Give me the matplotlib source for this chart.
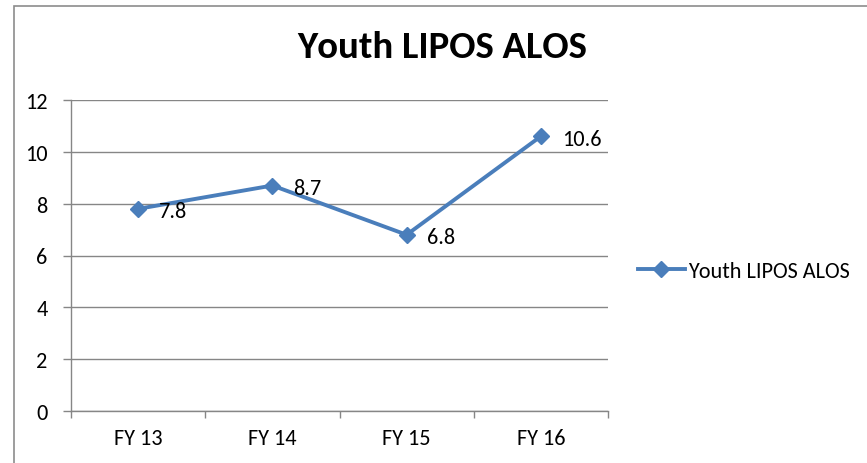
import matplotlib
matplotlib.use("Agg")
import matplotlib.pyplot as plt
from matplotlib.patches import Rectangle
from matplotlib import font_manager

# data
CATEGORIES = ["FY 13", "FY 14", "FY 15", "FY 16"]
ALOS = [7.8, 8.7, 6.8, 10.6]
Y_TICKS = [0, 2, 4, 6, 8, 10, 12]
SERIES_NAME = "Youth LIPOS ALOS"

available = {f.name for f in font_manager.fontManager.ttflist}
font_name = next((f for f in ["Carlito", "Lato", "Open Sans"] if f in available), "DejaVu Sans")
plt.rcParams["font.family"] = [font_name, "DejaVu Sans"]

LINE_COLOR = "#4A7EBB"
GRID_COLOR = "#868686"
FS = 16

fig = plt.figure(figsize=(8.67, 4.64), dpi=100)

# chart border (outer frame, runs off right/bottom edge)
fig.patches.append(Rectangle((14 / 867, -0.1), 1.2, 1 - 7 / 464 + 0.1,
                             transform=fig.transFigure, fill=False,
                             edgecolor="#8C8C8C", linewidth=1.2))

ax = fig.add_axes([71 / 867, 1 - 412 / 464, (608 - 71) / 867, (412 - 101) / 464])

x = list(range(len(CATEGORIES)))
ax.plot(x, ALOS, color=LINE_COLOR, linewidth=2.8, marker="D",
        markersize=8.5, label=SERIES_NAME, zorder=3, clip_on=False)

for xi, v in zip(x, ALOS):
    ax.annotate(f"{v:g}", (xi, v), xytext=(15, -6), textcoords="offset points",
                ha="left", va="baseline", fontsize=FS, color="black")

ax.set_xlim(-0.5, len(CATEGORIES) - 0.5)
ax.set_ylim(0, 12)
ax.set_yticks(Y_TICKS)
ax.set_yticklabels([str(t) for t in Y_TICKS], fontsize=FS)

# category labels between tick marks
ax.set_xticks([i - 0.5 for i in range(len(CATEGORIES) + 1)])
ax.set_xticklabels([])
ax.set_xticks(x, minor=True)
ax.set_xticklabels(CATEGORIES, minor=True, fontsize=FS)
ax.tick_params(axis="x", which="minor", length=0, pad=12)
ax.tick_params(axis="x", which="major", length=5, color=GRID_COLOR, width=1)
ax.tick_params(axis="y", length=6, color=GRID_COLOR, width=1, pad=11)

ax.grid(axis="y", color=GRID_COLOR, linewidth=1)
ax.set_axisbelow(True)
for side in ["top", "right"]:
    ax.spines[side].set_visible(False)
for side in ["left", "bottom"]:
    ax.spines[side].set_color(GRID_COLOR)
    ax.spines[side].set_linewidth(1)

fig.text(442 / 867, 1 - 58 / 464, "Youth LIPOS ALOS", ha="center", va="baseline",
         fontsize=28, fontweight="bold")

fig.legend(loc="center left", bbox_to_anchor=(638 / 867, 1 - 272 / 464),
           frameon=False, fontsize=FS, handlelength=2.1, handletextpad=0.15,
           borderpad=0, borderaxespad=0)

plt.savefig("out.png", dpi=100, facecolor="white")
plt.close()
